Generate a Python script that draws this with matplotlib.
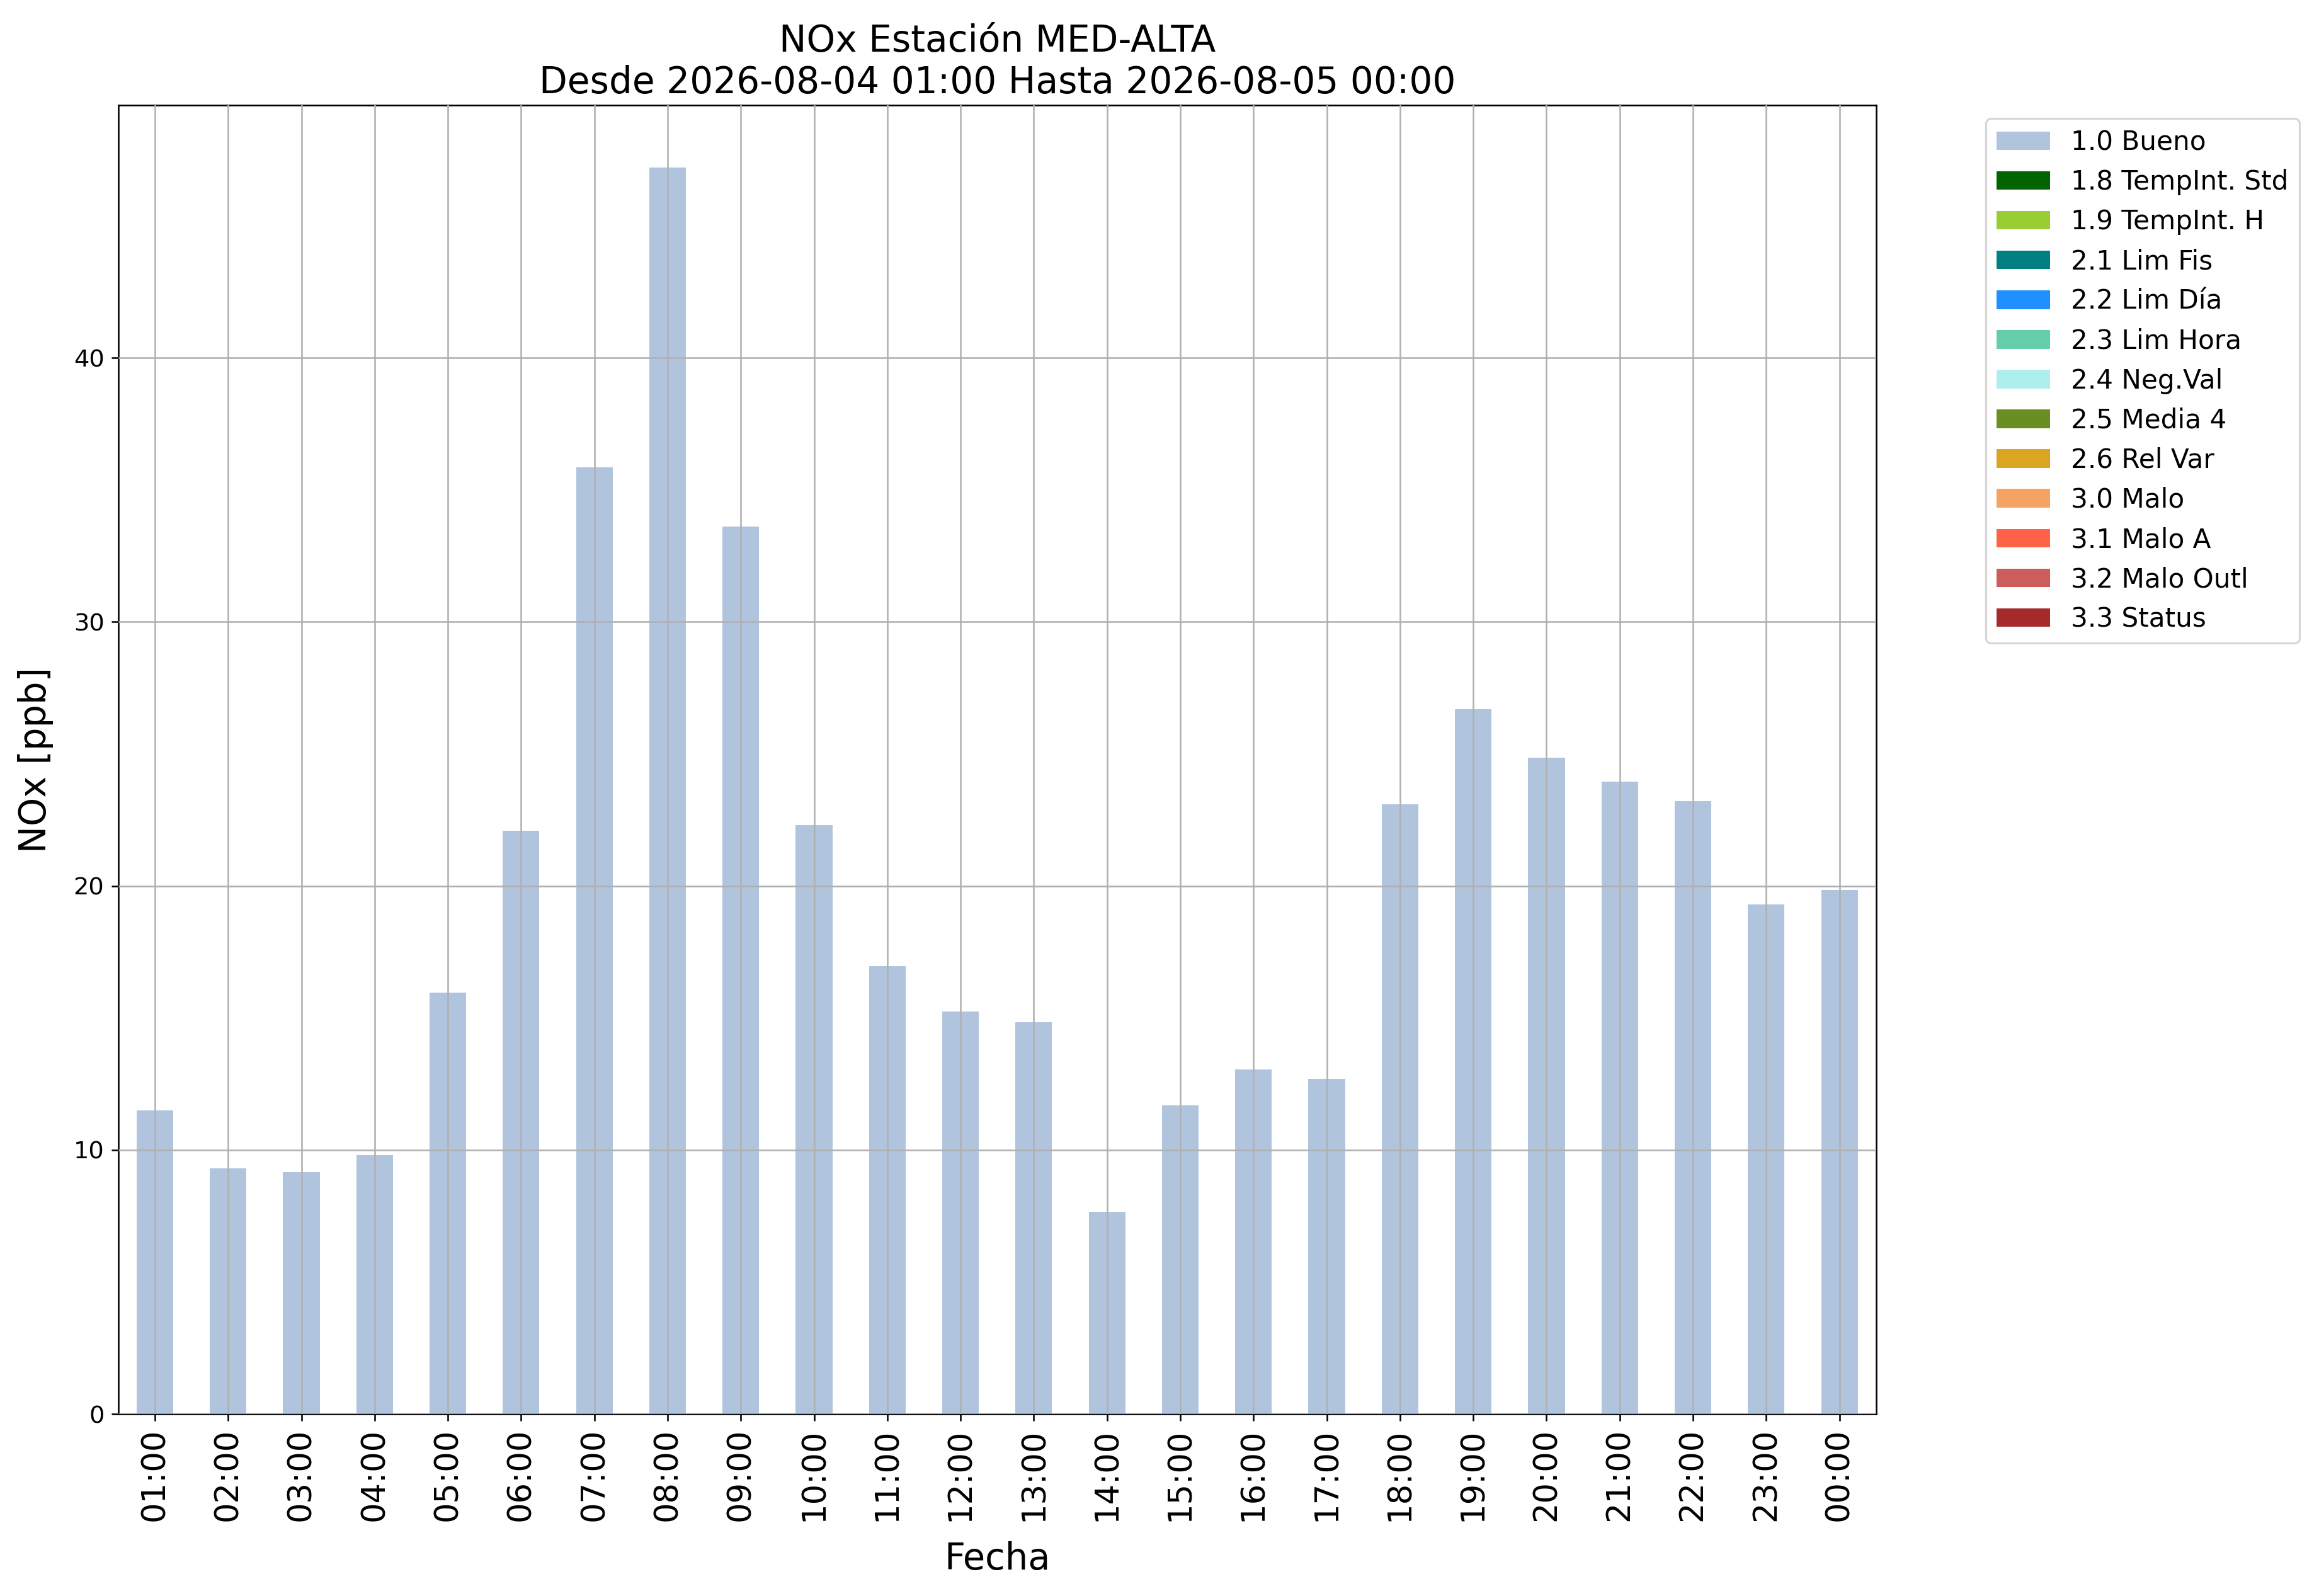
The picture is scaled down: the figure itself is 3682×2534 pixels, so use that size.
import matplotlib
matplotlib.use("Agg")
import matplotlib.pyplot as plt
from matplotlib.patches import Patch
import numpy as np

hours = ["01:00", "02:00", "03:00", "04:00", "05:00", "06:00", "07:00", "08:00",
         "09:00", "10:00", "11:00", "12:00", "13:00", "14:00", "15:00", "16:00",
         "17:00", "18:00", "19:00", "20:00", "21:00", "22:00", "23:00", "00:00"]
nox = [11.5, 9.3, 9.15, 9.8, 15.95, 22.1, 35.85, 47.2, 33.6, 22.3, 16.95, 15.25,
       14.85, 7.65, 11.7, 13.05, 12.7, 23.1, 26.7, 24.85, 23.95, 23.2, 19.3, 19.85]

flag_labels = ["1.0 Bueno", "1.8 TempInt. Std", "1.9 TempInt. H", "2.1 Lim Fis",
               "2.2 Lim Día", "2.3 Lim Hora", "2.4 Neg.Val", "2.5 Media 4",
               "2.6 Rel Var", "3.0 Malo", "3.1 Malo A", "3.2 Malo Outl", "3.3 Status"]
flag_colors = ["lightsteelblue", "darkgreen", "yellowgreen", "teal", "dodgerblue",
               "mediumaquamarine", "paleturquoise", "olivedrab", "goldenrod",
               "sandybrown", "tomato", "indianred", "brown"]

title = "NOx Estación MED-ALTA\nDesde 2026-08-04 01:00 Hasta 2026-08-05 00:00"

fig = plt.figure(figsize=(3682 / 230, 2534 / 230), dpi=230)
ax = fig.add_axes([0.051, 0.114, 0.758, 0.82])

x = np.arange(len(hours))
ax.bar(x, nox, width=0.5, color=flag_colors[0])
ax.set_xlim(-0.5, len(hours) - 0.5)
ax.set_ylim(0, max(nox) * 1.05)
ax.set_xticks(x)
ax.set_xticklabels(hours, rotation=90, fontsize=16)
ax.tick_params(axis="y", labelsize=12)
ax.set_yticks([0, 10, 20, 30, 40])
ax.grid(True, color="#b0b0b0", linewidth=0.8)
ax.set_axisbelow(False)
ax.set_xlabel("Fecha", fontsize=18, labelpad=10)
ax.set_ylabel("NOx [ppb]", fontsize=18, labelpad=10)
ax.set_title(title, fontsize=18.2)

handles = [Patch(facecolor=c, label=l) for c, l in zip(flag_colors, flag_labels)]
ax.legend(handles=handles, loc="upper left", bbox_to_anchor=(1.055, 1.0), fontsize=13.2)

fig.savefig("out.png", dpi=230)
